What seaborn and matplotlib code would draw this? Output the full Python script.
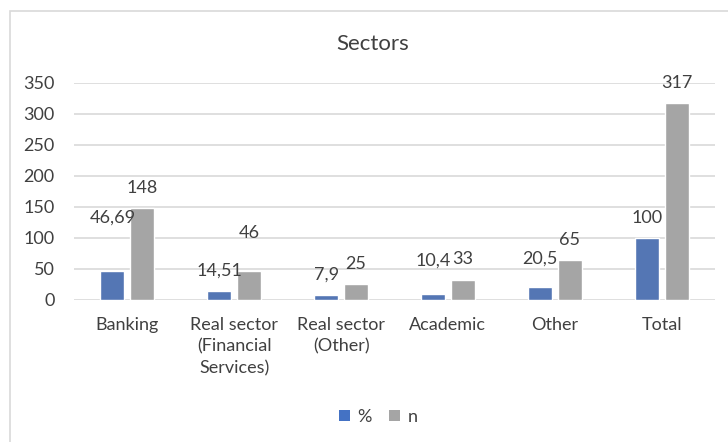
import matplotlib
matplotlib.use("Agg")
import matplotlib.pyplot as plt
from matplotlib.patches import Rectangle, Patch
import seaborn as sns
import pandas as pd

categories = ["Banking", "Real sector\n(Financial\nServices)", "Real sector\n(Other)",
              "Academic", "Other", "Total"]
pct_values = [46.69, 14.51, 7.9, 10.4, 20.5, 100]
n_values = [148, 46, 25, 33, 65, 317]
series_names = ["%", "n"]
y_ticks = [0, 50, 100, 150, 200, 250, 300, 350]

# extra lift (points) for labels that were moved clear of neighbouring text
label_lift_pct = [24, 0, 0, 9, 6, 0]
label_lift_n = [0, 13, 0, 0, 0, 0]

BLUE = "#4472C4"
GRAY = "#A5A5A5"
TEXT = "#404040"
FS = 13

sns.set_theme(style="white")
plt.rcParams["font.family"] = ["Lato", "DejaVu Sans"]

df = pd.DataFrame({
    "category": categories * 2,
    "series": [series_names[0]] * len(categories) + [series_names[1]] * len(categories),
    "value": pct_values + n_values,
})

fig = plt.figure(figsize=(7.28, 4.42), dpi=100)
ax = fig.add_axes([74 / 728, 1 - 300 / 442, (715 - 74) / 728, (300 - 82.7) / 442])

sns.barplot(data=df, x="category", y="value", hue="series", order=categories,
            hue_order=series_names, palette=[BLUE, GRAY], width=0.56, gap=0.2,
            ax=ax, legend=False)

ax.set_ylim(0, 350)
ax.set_xlim(-0.5, len(categories) - 0.5)
ax.set_yticks(y_ticks)
ax.yaxis.grid(True, color="#D9D9D9", linewidth=1.2)
ax.set_axisbelow(True)
for s in ax.spines.values():
    s.set_visible(False)
ax.set_xlabel("")
ax.set_ylabel("")
ax.tick_params(axis="y", length=0, pad=14, labelsize=FS, labelcolor=TEXT)
ax.tick_params(axis="x", length=0, pad=12, labelsize=FS, labelcolor=TEXT)
for lbl in ax.get_xticklabels():
    lbl.set_linespacing(1.43)
    lbl.set_verticalalignment("top")


def fmt(v):
    return f"{v:g}".replace(".", ",")


for container, vals, lifts in zip(ax.containers, [pct_values, n_values],
                                  [label_lift_pct, label_lift_n]):
    for bar, v, lift in zip(container, vals, lifts):
        x = bar.get_x() + bar.get_width() / 2
        ax.annotate(fmt(v), (x, v), xytext=(0, 14.5 + lift), textcoords="offset points",
                    ha="center", va="center", fontsize=FS, color=TEXT,
                    annotation_clip=False)

fig.text(373 / 728, 1 - 44 / 442, "Sectors", ha="center", va="center",
         fontsize=16, color=TEXT)

handles = [Patch(facecolor=BLUE, edgecolor="none"), Patch(facecolor=GRAY, edgecolor="none")]
fig.legend(handles, series_names, loc="center", bbox_to_anchor=(378 / 728, 1 - 417 / 442),
           ncol=2, frameon=False, fontsize=FS, handlelength=0.6, handleheight=0.6,
           handletextpad=0.4, columnspacing=1.0, labelcolor=TEXT)

# chart area outline
fig.patches.append(Rectangle((10 / 728, -0.05), 1.0, 1 - 11 / 442 + 0.05,
                             transform=fig.transFigure, fill=False,
                             edgecolor="#D9D9D9", linewidth=1.2))

fig.savefig("out.png", dpi=100)
